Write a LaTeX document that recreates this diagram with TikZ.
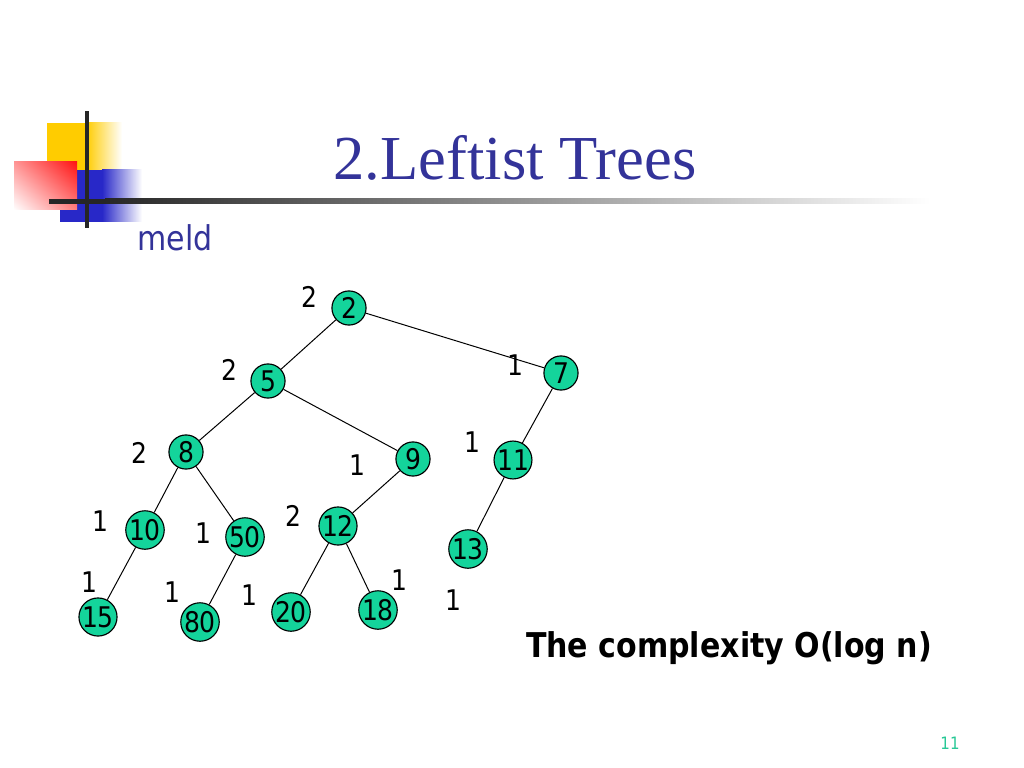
\documentclass[tikz,border=0pt]{standalone}
\usepackage{fontspec}
\usepackage{xcolor}
\setmainfont{Liberation Serif}
\newfontfamily\tahoma{DejaVu Sans}[FakeStretch=0.88]
\definecolor{titleblue}{RGB}{51,51,153}
\definecolor{nodegreen}{RGB}{20,212,155}
\definecolor{pagegreen}{RGB}{40,200,150}
\definecolor{logoyellow}{RGB}{255,204,0}
\definecolor{logored}{RGB}{255,20,20}
\definecolor{logoblue}{RGB}{40,40,200}
\usetikzlibrary{positioning,shadings}

\begin{document}
\begin{tikzpicture}[
    x=0.703125pt, y=-0.703125pt,
    every node/.style={font=\tahoma\fontsize{20}{24}\selectfont},
    key/.style={circle, draw=black, fill=nodegreen, line width=0.8pt,
        minimum size=24pt, inner sep=0pt},
    rank/.style={inner sep=0pt},
    edge/.style={draw=black, line width=0.7pt}
]
\useasboundingbox (0,0) rectangle (1024,768);

% Logo
\fill[logoyellow] (47,123) rectangle (86,170);
\shade[left color=logoyellow, right color=white] (86,123) rectangle (122,170);
\fill[logoblue] (60,170) rectangle (102,222);
\shade[left color=logoblue, right color=white] (102,170) rectangle (142,222);
\shade[upper right=logored, upper left=logored!45, lower left=white,
    lower right=logored!55] (14,162) rectangle (77,210);
\fill[black!85] (85,111) rectangle (89,228);
\fill[black!85] (49,199) rectangle (105,204);
\shade[left color=black!85, right color=white] (105,199) rectangle (930,204);

% Title
\node[font=\fontsize{44}{50}\selectfont, text=titleblue] (title) at (515,158) {2.Leftist Trees};
\node[font=\tahoma\fontsize{24}{28}\selectfont, text=titleblue] (meld) at (175,238) {meld};

% Keys
\node[key] (n2) at (349,308) {2};
\node[key] (n5) at (268,381) {5};
\node[key] (n7) at (561,373) {7};
\node[key] (n8) at (186,452) {8};
\node[key] (n9) at (413,459) {9};
\node[key] (n11) at (513,460) {11};
\node[key] (n10) at (145,530) {10};
\node[key] (n50) at (245,537) {50};
\node[key] (n12) at (338,526) {12};
\node[key] (n13) at (468,549) {13};
\node[key] (n15) at (98,617) {15};
\node[key] (n80) at (200,622) {80};
\node[key] (n20) at (291,612) {20};
\node[key] (n18) at (378,610) {18};

% Edges
\draw[edge] (n2) -- (n5);
\draw[edge] (n2) -- (n7);
\draw[edge] (n5) -- (n8);
\draw[edge] (n5) -- (n9);
\draw[edge] (n7) -- (n11);
\draw[edge] (n8) -- (n10);
\draw[edge] (n8) -- (n50);
\draw[edge] (n9) -- (n12);
\draw[edge] (n11) -- (n13);
\draw[edge] (n10) -- (n15);
\draw[edge] (n50) -- (n80);
\draw[edge] (n12) -- (n20);
\draw[edge] (n12) -- (n18);

% Ranks
\node[rank] (r2) at (309,297) {2};
\node[rank] (r5) at (229,370) {2};
\node[rank] (r8) at (139,453) {2};
\node[rank] (r7) at (515,365) {1};
\node[rank] (r11) at (472,442) {1};
\node[rank] (r9) at (357,465) {1};
\node[rank] (r10) at (100,521) {1};
\node[rank] (r50) at (203,533) {1};
\node[rank] (r12) at (293,516) {2};
\node[rank] (r15) at (89,582) {1};
\node[rank] (r80) at (172,592) {1};
\node[rank] (r20) at (249,595) {1};
\node[rank] (r18) at (399,580) {1};
\node[rank] (r13) at (453,600) {1};

% Note
\node[font=\tahoma\bfseries\fontsize{24}{28}\selectfont] (note) at (729,648) {The complexity O(log n)};
\node[font=\tahoma\fontsize{12}{14}\selectfont, text=pagegreen] (page) at (950,743) {11};

\end{tikzpicture}
\end{document}
